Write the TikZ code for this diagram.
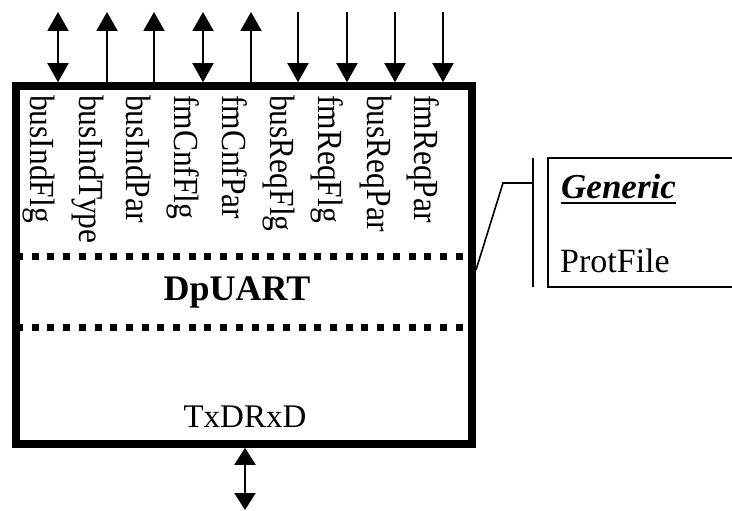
\documentclass[tikz,border=0pt]{standalone}
\usepackage{fontspec}
\setmainfont{Liberation Serif}
\usetikzlibrary{arrows.meta}
\begin{document}
\begin{tikzpicture}[x=1pt,y=-1pt,
  >={Triangle[width=21pt,length=19pt]},
  sig/.style={line width=2pt},
  lbl/.style={xscale=1.12,rotate=-90,anchor=north west,inner sep=0pt,font=\fontsize{31.5}{36}\selectfont},
  thin/.style={line width=1.6pt}]
\useasboundingbox (0,0) rectangle (732,511);

% block outline
\coordinate (nw) at (16,86);
\coordinate (se) at (472,444);
\draw[line width=7.5pt] (nw) rectangle (se);

% internal separators
\draw[line width=7pt,dash pattern=on 7pt off 8.7pt] (16,256) -- (472,256);
\draw[line width=7pt,dash pattern=on 7pt off 8.7pt] (16,327) -- (472,327);

\node[font=\fontsize{36}{40}\selectfont\bfseries] (name) at (237,292) {DpUART};
\node[font=\fontsize{33}{38}\selectfont,anchor=base] (io) at (245,427) {TxDRxD};

% port labels and their signals
\foreach \x/\t/\kind [count=\i] in {
   58/busIndFlg/b, 107/busIndType/u, 154/busIndPar/u,
   203/fmCnfFlg/b, 251/fmCnfPar/u, 298/busReqFlg/d,
   347/fmReqFlg/d, 395/busReqPar/d, 443/fmReqPar/d} {
  \node[lbl] (l\i) at (\x-3,95) {\t};
  \coordinate (p\i) at (\x,82.2);
  \coordinate (q\i) at (\x,12);
  \if b\kind \draw[sig,<->] (p\i) -- (q\i); \fi
  \if u\kind \draw[sig,->] (\x,86) -- (q\i); \fi
  \if d\kind \draw[sig,->] (q\i) -- (p\i); \fi
}

% serial line at the bottom
\coordinate (b0) at (245,447.8);
\coordinate (b1) at (245,510);
\draw[sig,{Triangle[width=21pt,length=17pt]}-{Triangle[width=21pt,length=17pt]}] (b0) -- (b1);

% generic annotation
\coordinate (att) at (476,270);
\coordinate (knee) at (503,183);
\coordinate (bar) at (533,183);
\draw[thin] (att) -- (knee) -- (bar);
\draw[thin] (533,158) -- (533,287);
\draw[thin] (732,158) -- (548,158) -- (548,287) -- (732,287);
\node[anchor=base west,inner sep=0pt,font=\fontsize{35}{40}\selectfont\bfseries\itshape] (gen) at (561,198) {Generic};
\draw[line width=2.6pt] ([yshift=-5pt]gen.base west) -- ([yshift=-5pt]gen.base east);
\node[anchor=base west,inner sep=0pt,font=\fontsize{34}{40}\selectfont] (pf) at (560,272) {ProtFile};
\end{tikzpicture}
\end{document}
